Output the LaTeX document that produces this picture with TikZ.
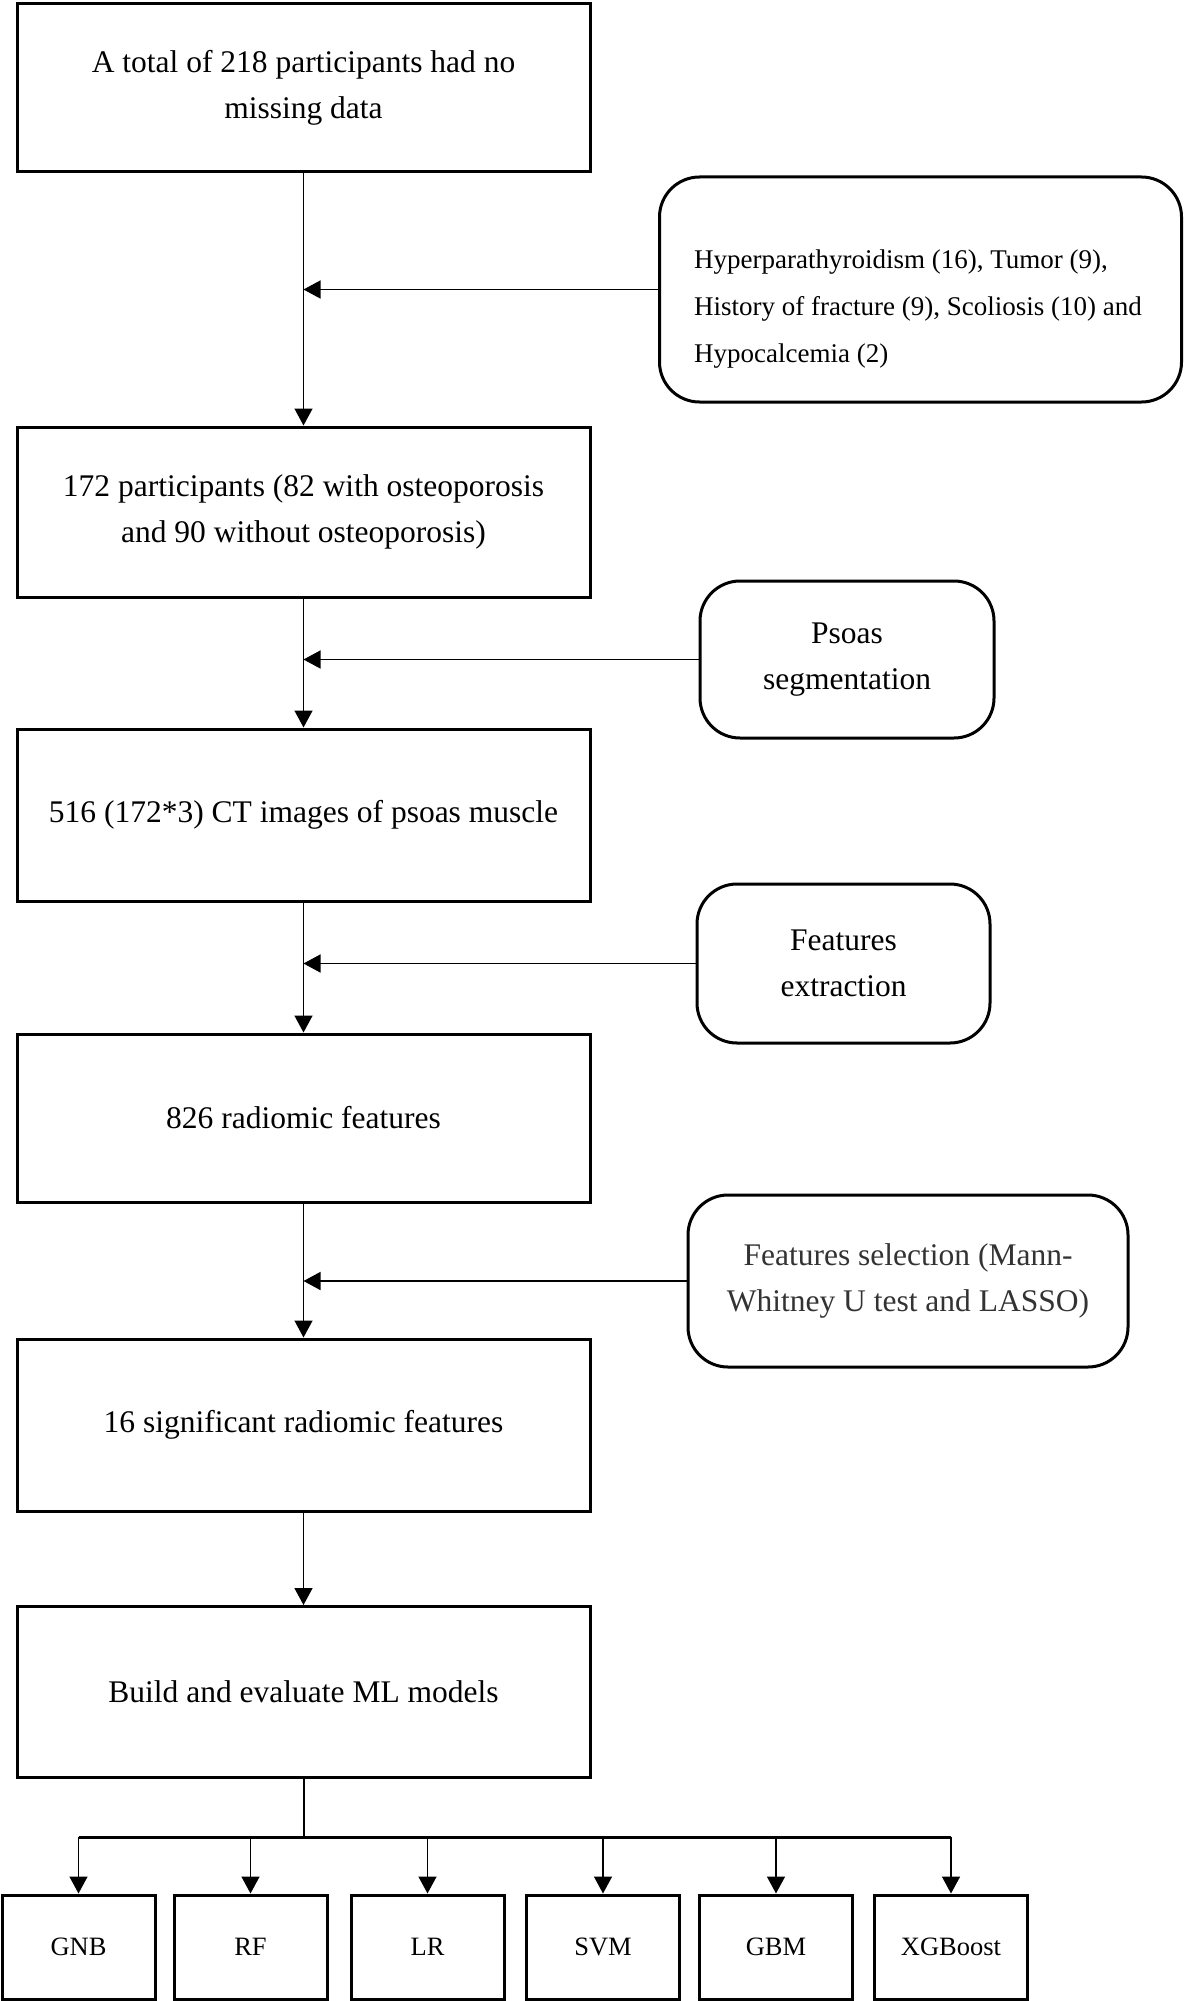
\documentclass[tikz,border=0pt]{standalone}
\usepackage{fontspec}
\setmainfont{Liberation Serif}
\usetikzlibrary{arrows.meta}
\begin{document}
\begin{tikzpicture}[x=1pt,y=-1pt,
        box/.style={draw,line width=3pt,inner sep=0pt,minimum width=573pt,align=center,font=\fontsize{31.5}{46}\selectfont},
        side/.style={draw,line width=3pt,rounded corners=40pt,inner sep=0pt,align=center,font=\fontsize{31.5}{46}\selectfont},
        model/.style={draw,line width=3pt,inner sep=0pt,minimum width=153pt,minimum height=104pt,font=\fontsize{26.5}{30}\selectfont},
        arr/.style={line width=1.5pt,-{Triangle[length=17pt,width=18pt]}}]
        \useasboundingbox (0,0) rectangle (1183,2001);

        \node[box,minimum height=168pt] (total) at (303.5,88) {A total of 218 participants had no\\missing data};
        \node[box,minimum height=170pt] (pts) at (303.5,512) {172 participants (82 with osteoporosis\\and 90 without osteoporosis)};
        \node[box,minimum height=172pt] (ct) at (303.5,815) {516 (172*3) CT images of psoas muscle};
        \node[box,minimum height=168pt] (feat) at (303.5,1118) {826 radiomic features};
        \node[box,minimum height=172pt] (sig) at (303.5,1425) {16 significant radiomic features};
        \node[box,minimum height=171pt] (ml) at (303.5,1692) {Build and evaluate ML models};

        \node[side,minimum width=522pt,minimum height=225pt] (excl) at (920.5,289.5) {};
        \node[inner sep=0pt,anchor=west,align=left,font=\fontsize{27}{47}\selectfont] (excltxt) at (694,309)
            {Hyperparathyroidism (16), Tumor (9),\\History of fracture (9), Scoliosis (10) and\\Hypocalcemia (2)};
        \node[side,minimum width=294pt,minimum height=157pt] (seg) at (847,659.5) {Psoas\\segmentation};
        \node[side,minimum width=293pt,minimum height=159pt] (extr) at (843.5,963.5) {Features\\extraction};
        \node[side,minimum width=440pt,minimum height=172pt,text=black!80] (sel) at (908,1281) {Features selection (Mann-\\Whitney U test and LASSO)};

        \draw[arr] (total) -- (pts);
        \draw[arr] (pts) -- (ct);
        \draw[arr] (ct) -- (feat);
        \draw[arr] (feat) -- (sig);
        \draw[arr] (sig) -- (ml);

        \draw[arr] (excl.west) -- (excl.west -| total.south);
        \draw[arr] (seg.west) -- (seg.west -| pts.south);
        \draw[arr] (extr.west) -- (extr.west -| ct.south);
        \draw[arr] (sel.west) -- (sel.west -| feat.south);

        \node[model] (gnb) at (78.5,1947) {GNB};
        \node[model] (rf) at (250.5,1947) {RF};
        \node[model] (lr) at (427.5,1947) {LR};
        \node[model] (svm) at (603,1947) {SVM};
        \node[model] (gbm) at (776,1947) {GBM};
        \node[model] (xgb) at (951,1947) {XGBoost};

        \coordinate (bus) at (303.5,1837);
        \draw[line width=2pt] (ml.south) -- (bus);
        \draw[line width=3pt] (gnb.north |- bus) -- (xgb.north |- bus);
        \foreach \m in {gnb,rf,lr,svm,gbm,xgb}
            \draw[arr] (\m.north |- bus) -- (\m.north);
    \end{tikzpicture}
\end{document}
